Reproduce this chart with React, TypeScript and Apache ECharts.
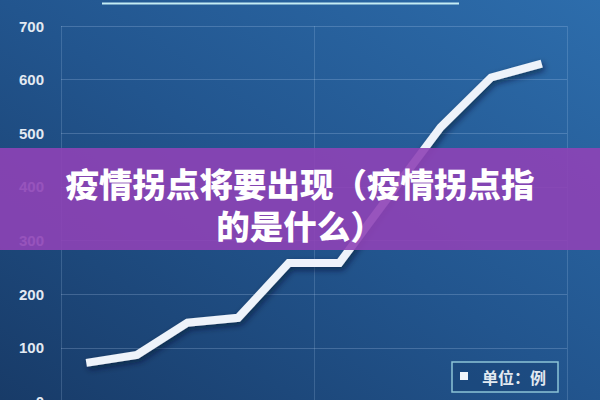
import React, { useEffect, useRef } from "react";
import * as echarts from "echarts";

const categories = ["1", "2", "3", "4", "5", "6", "7", "8", "9", "10"];
const values = [72, 87, 147, 156, 258, 258, 385, 511, 604, 630];
const yTicks = [0, 100, 200, 300, 400, 500, 600, 700];
const titleLines = ["疫情拐点将要出现（疫情拐点指", "的是什么）"];
const legendText = "单位：例";

export default function App() {
  const ref = useRef<HTMLDivElement>(null);
  useEffect(() => {
    document.body.style.margin = "0";
    const chart = echarts.init(ref.current!, null, { renderer: "svg" });
    chart.setOption({
      animation: false,
      backgroundColor: new echarts.graphic.LinearGradient(0, 1, 1, 0, [
        { offset: 0, color: "#183b68" },
        { offset: 0.5, color: "#22558e" },
        { offset: 1, color: "#2d6dac" },
      ]),
      grid: {
        left: 61,
        top: 26,
        width: 506,
        height: 375.5,
        containLabel: false,
        outerBoundsMode: "none",
      },
      xAxis: {
        type: "category",
        data: categories,
        boundaryGap: true,
        axisLine: { show: false },
        axisTick: { show: false },
        axisLabel: { show: false },
        splitLine: {
          show: true,
          interval: 4,
          lineStyle: { color: "rgba(200,225,255,0.18)", width: 1 },
        },
      },
      yAxis: {
        type: "value",
        min: yTicks[0],
        max: yTicks[yTicks.length - 1],
        interval: 100,
        axisLine: { show: false },
        axisTick: { show: false },
        axisLabel: {
          color: "#e3eaf2",
          fontSize: 15,
          fontWeight: "bold",
          fontFamily: "Liberation Sans, Arial, sans-serif",
          margin: 17,
        },
        splitLine: { lineStyle: { color: "rgba(200,225,255,0.22)", width: 1 } },
      },
      series: [
        {
          type: "line",
          data: values,
          symbol: "none",
          z: 3,
          lineStyle: {
            color: "#eef3fa",
            width: 8,
            cap: "butt",
            join: "miter",
            shadowColor: "rgba(5,20,45,0.6)",
            shadowBlur: 6,
            shadowOffsetX: 2,
            shadowOffsetY: 3,
          },
        },
      ],
      graphic: [
        {
          type: "line",
          shape: { x1: 102, y1: 3.5, x2: 459, y2: 3.5 },
          style: { stroke: "#c4ecf4", lineWidth: 2 },
          z: 10,
        },
        {
          type: "rect",
          shape: { x: 0, y: 148, width: 600, height: 102 },
          style: { fill: "rgba(142,66,182,0.9)" },
          z: 50,
        },
        {
          type: "text",
          x: 300,
          y: 203,
          style: {
            text: titleLines.join("\n"),
            fill: "#ffffff",
            font: "900 33.5px 'Noto Sans CJK SC'",
            lineHeight: 42,
            align: "center",
            verticalAlign: "middle",
          },
          z: 51,
        },
        {
          type: "rect",
          shape: { x: 452, y: 362, width: 106, height: 30 },
          style: { fill: "rgba(20,60,110,0.35)", stroke: "#8cc4d6", lineWidth: 1.5 },
          z: 20,
        },
        {
          type: "rect",
          shape: { x: 460, y: 372, width: 8, height: 8 },
          style: { fill: "#f2f6fb" },
          z: 21,
        },
        {
          type: "text",
          x: 482,
          y: 377,
          style: {
            text: legendText,
            fill: "#e2e9f1",
            font: "bold 16px 'Noto Sans CJK SC'",
            align: "left",
            verticalAlign: "middle",
          },
          z: 21,
        },
      ],
    });
    return () => chart.dispose();
  }, []);
  return <div ref={ref} style={{ width: 600, height: 400 }} />;
}
